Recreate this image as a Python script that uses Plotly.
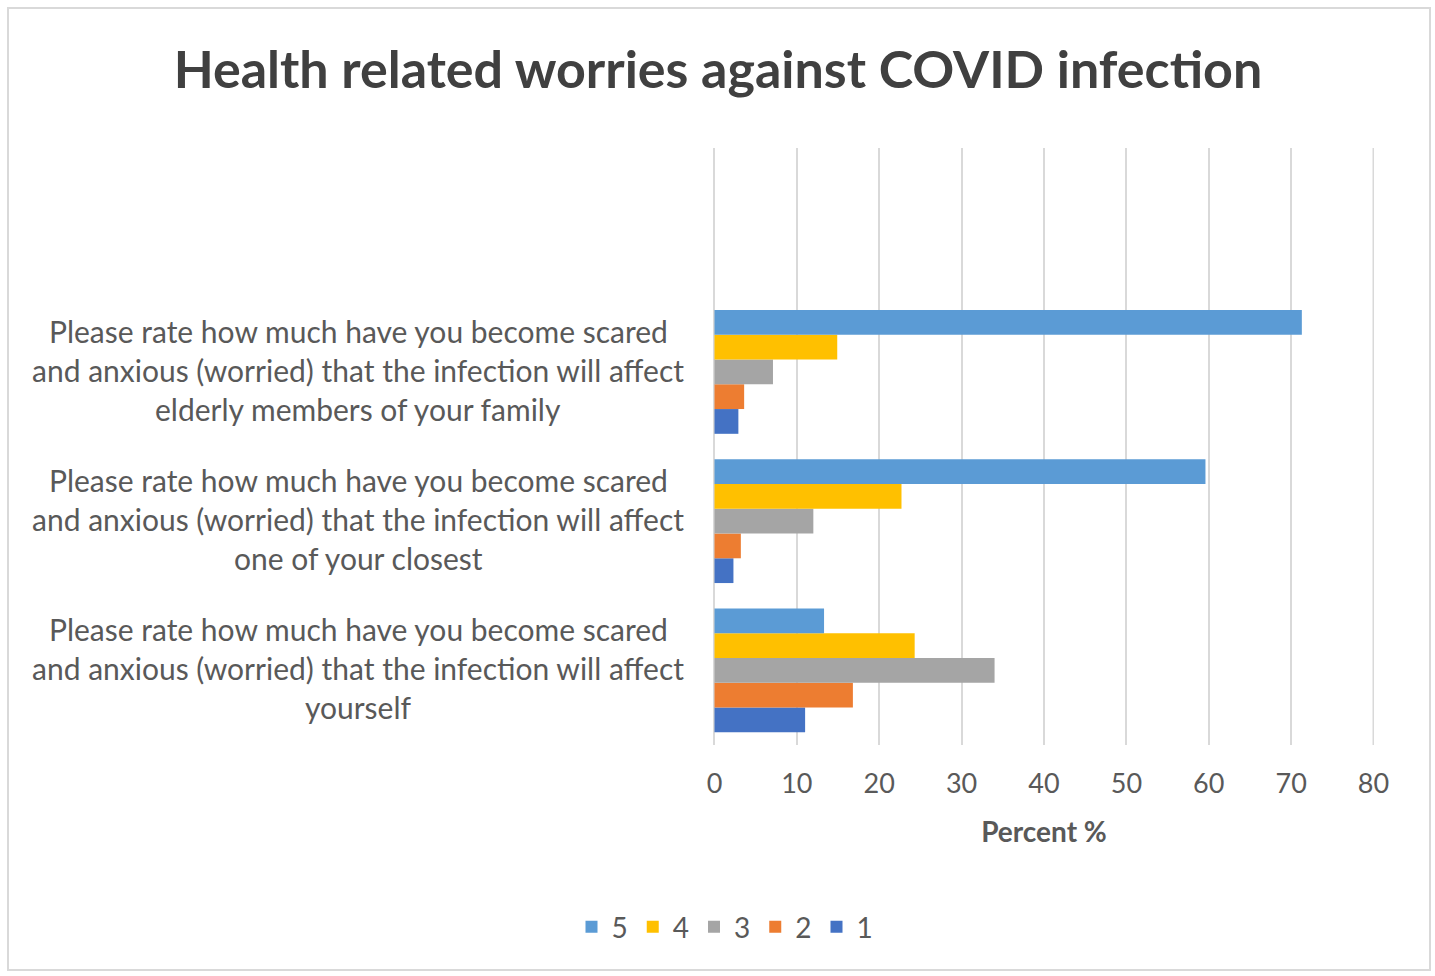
import plotly.graph_objects as go

categories = ["yourself", "closest", "elderly", ""]
label_lines = [
    ["Please rate how much have you become scared",
     "and anxious (worried) that the infection will affect",
     "yourself"],
    ["Please rate how much have you become scared",
     "and anxious (worried) that the infection will affect",
     "one of your closest"],
    ["Please rate how much have you become scared",
     "and anxious (worried) that the infection will affect",
     "elderly members of your family"],
]
series_names = ["1", "2", "3", "4", "5"]
values = {
    "1": [11.0, 2.3, 2.9],
    "2": [16.8, 3.2, 3.6],
    "3": [34.0, 12.0, 7.1],
    "4": [24.3, 22.7, 14.9],
    "5": [13.3, 59.6, 71.3],
}
colors = {"1": "#4472C4", "2": "#ED7D31", "3": "#A5A5A5", "4": "#FFC000", "5": "#5B9BD5"}
x_ticks = [0, 10, 20, 30, 40, 50, 60, 70, 80]

W, H = 1435, 976
ml, mr, mt, mb = 714, 61, 148, 231
pw = W - ml - mr
ph = H - mt - mb

fig = go.Figure()
for s in series_names:
    fig.add_trace(go.Bar(
        y=categories[:3], x=values[s], name=s, orientation="h",
        marker=dict(color=colors[s], line=dict(width=0)),
    ))

font_fam = "Lato, 'Open Sans', sans-serif"
annotations = []
for cat, lines in zip(categories[:3], label_lines):
    for i, line in enumerate(lines):
        annotations.append(dict(
            x=(358 - ml) / pw, xref="paper", y=cat, yref="y",
            text=line, showarrow=False, xanchor="center", yanchor="middle",
            yshift=(1 - i) * 39 + 2, font=dict(size=30, color="#595959", family=font_fam),
        ))

fig.update_layout(
    width=W, height=H,
    margin=dict(l=ml, r=mr, t=mt, b=mb),
    paper_bgcolor="white", plot_bgcolor="white",
    barmode="group", bargap=0.17, bargroupgap=0,
    title=dict(text="<b>Health related worries against COVID infection</b>",
               x=(718) / W, xanchor="center", y=1 - 70 / H, yanchor="middle",
               font=dict(size=52, color="#404040", family=font_fam)),
    xaxis=dict(range=[-0.06, 80.06], tickvals=x_ticks, showgrid=True, gridcolor="#D9D9D9",
               gridwidth=2, zeroline=True, zerolinecolor="#D9D9D9", zerolinewidth=2,
               showline=False,
               tickfont=dict(size=27, color="#595959", family=font_fam),
               ticks="", ticklabelstandoff=20,
               title=dict(text="<b>Percent %</b>", standoff=24,
                          font=dict(size=28, color="#595959", family=font_fam))),
    yaxis=dict(categoryorder="array", categoryarray=categories, range=[-0.5, 3.5],
               showticklabels=False, showgrid=False, zeroline=False, showline=False, ticks=""),
    legend=dict(orientation="h", traceorder="reversed", x=(725 - ml) / pw, xanchor="center",
                y=-(927 - (mt + ph)) / ph, yanchor="middle",
                font=dict(size=28, color="#595959", family=font_fam),
                itemwidth=30, tracegroupgap=0),
    annotations=annotations,
    shapes=[
        dict(type="rect", xref="paper", yref="paper",
             x0=(8 - ml) / pw, x1=(1430 - ml) / pw,
             y0=1 - (970 - mt) / ph, y1=1 - (8 - mt) / ph,
             line=dict(color="#D9D9D9", width=2), fillcolor="rgba(0,0,0,0)", layer="below"),
        dict(type="line", xref="x", yref="paper", x0=x_ticks[-1], x1=x_ticks[-1], y0=0, y1=1,
             line=dict(color="#D9D9D9", width=2), layer="below"),
    ],
)

fig.write_html("out.html")
